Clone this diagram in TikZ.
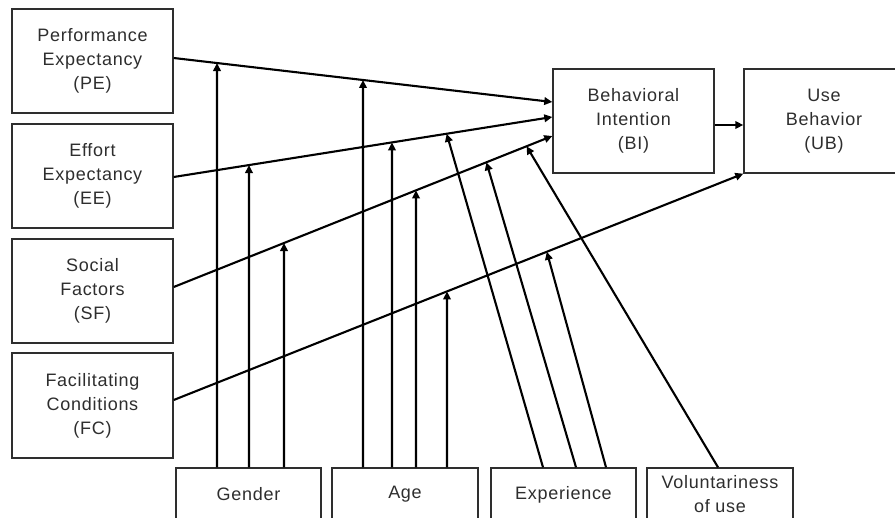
\documentclass[tikz,border=0pt]{standalone}
\usepackage{fontspec}
\setmainfont{Liberation Sans}[LetterSpace=4]
\usetikzlibrary{arrows.meta,calc}
\definecolor{ink}{HTML}{2E2E2E}
\begin{document}
\begin{tikzpicture}[x=1pt,y=-1pt,
  box/.style={draw=ink,line width=1.4pt,text=ink,align=center,inner sep=0pt,
    font=\fontsize{18}{24}\selectfont},
  lbox/.style={box,minimum width=161pt,minimum height=104pt},
  bbox/.style={box,minimum width=145pt,minimum height=53pt},
  link/.style={line width=2.1pt,-{Triangle[length=8pt,width=7.5pt]}},
]
\clip (0,0) rectangle (895,518);
\fill[white] (0,0) rectangle (895,518);
% left constructs
\node[lbox] (PE) at (92.5,61) {Performance\\Expectancy\\(PE)};
\node[lbox] (EE) at (92.5,176) {Effort\\Expectancy\\(EE)};
\node[lbox] (SF) at (92.5,291) {Social\\Factors\\(SF)};
\node[lbox,minimum height=105pt] (FC) at (92.5,405.5) {Facilitating\\Conditions\\(FC)};
% outcomes
\node[lbox] (BI) at (633.5,121) {Behavioral\\Intention\\(BI)};
\node[lbox,minimum width=160pt] (UB) at (824,121) {Use\\Behavior\\(UB)};
% moderators
\node[bbox] (G) at (248.5,494.5) {Gender};
\node[bbox,minimum width=146pt] (A) at (405,494.5) {Age};
\node[bbox] (X) at (563.5,494.5) {Experience};
\node[bbox,minimum width=146pt] (V) at (720,494.5) {Voluntariness\\of use};
% main path end points
\coordinate (pe0) at ([yshift=3pt]PE.east);
\coordinate (pe1) at ([yshift=19pt]BI.west);
\coordinate (ee0) at ([yshift=-1pt]EE.east);
\coordinate (ee1) at ([yshift=4pt]BI.west);
\coordinate (sf0) at ([yshift=4pt]SF.east);
\coordinate (sf1) at ([yshift=-15pt]BI.west);
\coordinate (fc0) at ([yshift=5.5pt]FC.east);
\coordinate (fc1) at (UB.south west);
\draw[link] (pe0) -- (pe1);
\draw[link] (ee0) -- (ee1);
\draw[link] (sf0) -- (sf1);
\draw[link] (fc0) -- (fc1);
\draw[link] ([yshift=-4pt]BI.east) -- ([yshift=-4pt]UB.west);
% moderator start points
\coordinate (g1) at ([xshift=-31.5pt]G.north);
\coordinate (g2) at ([xshift=0.5pt]G.north);
\coordinate (g3) at ([xshift=35.5pt]G.north);
\coordinate (a1) at ([xshift=-42pt]A.north);
\coordinate (a2) at ([xshift=-13pt]A.north);
\coordinate (a3) at ([xshift=11pt]A.north);
\coordinate (a4) at ([xshift=42pt]A.north);
\coordinate (x1) at ([xshift=-20.5pt]X.north);
\coordinate (x2) at ([xshift=12.5pt]X.north);
\coordinate (x3) at ([xshift=42.5pt]X.north);
\coordinate (v1) at ([xshift=-2pt]V.north);
\foreach \s in {g1,g2,g3,a1,a2,a3,a4}{\coordinate (\s u) at ([yshift=500pt]\s);}
% gender
\draw[link] (g1) -- (intersection of pe0--pe1 and g1--g1u);
\draw[link] (g2) -- (intersection of ee0--ee1 and g2--g2u);
\draw[link] (g3) -- (intersection of sf0--sf1 and g3--g3u);
% age
\draw[link] (a1) -- (intersection of pe0--pe1 and a1--a1u);
\draw[link] (a2) -- (intersection of ee0--ee1 and a2--a2u);
\draw[link] (a3) -- (intersection of sf0--sf1 and a3--a3u);
\draw[link] (a4) -- (intersection of fc0--fc1 and a4--a4u);
% experience
\draw[link] (x1) -- ($(ee0)!0.721!(ee1)$);
\draw[link] (x2) -- ($(sf0)!0.826!(sf1)$);
\draw[link] (x3) -- ($(fc0)!0.655!(fc1)$);
% voluntariness
\draw[link] (v1) -- ($(sf0)!0.932!(sf1)$);
\end{tikzpicture}
\end{document}
